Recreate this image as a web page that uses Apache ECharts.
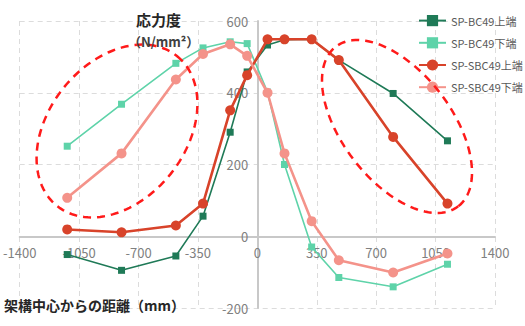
<!DOCTYPE html>
<html><head><meta charset="utf-8">
<script src="https://cdn.jsdelivr.net/npm/echarts@6/dist/echarts.min.js"></script>
<style>html,body{margin:0;padding:0;background:#fff}#c{width:525px;height:326px}</style>
</head><body><div id="c"></div>
<script>
const xPositions = [-1120, -800, -480, -320, -160, -60, 60, 160, 320, 480, 800, 1120];
const seriesNames = ['SP-BC49上端', 'SP-BC49下端', 'SP-SBC49上端', 'SP-SBC49下端'];
const bcTop =     [-51, -95, -55, 56, 290, 458, 533, 548, 549, 491, 398, 266];
const bcBottom =  [251, 368, 482, 525, 542, 537, 402, 200, -30, -115, -141, -78];
const sbcTop =    [19, 11, 30, 91, 351, 449, 549, 549, 549, 491, 277, 91];
const sbcBottom = [107, 231, 437, 508, 535, 503, 400, 231, 42, -67, -101, -48];
const xTicks = [-1400, -1050, -700, -350, 0, 350, 700, 1050, 1400];
const yTicks = [-200, 0, 200, 400, 600];

const FONT = '"Noto Sans CJK JP", "Noto Sans", sans-serif';
const toPairs = ys => xPositions.map((x, i) => [x, ys[i]]);

const W = 525, H = 326;
const G = {left: 18, right: 30, top: 21, bottom: 18};
const gw = W - G.left - G.right, gh = H - G.top - G.bottom;
const xMin = xTicks[0], xMax = xTicks[xTicks.length - 1];
const yMin = yTicks[0], yMax = yTicks[yTicks.length - 1];
// shift axes so they cross at zero (labels follow)
const xAxisOffset = -((0 - yMin) / (yMax - yMin)) * gh;
const yAxisOffset = -((0 - xMin) / (xMax - xMin)) * gw;

function ellipsePoints(cx, cy, a, b, angDeg) {
  const t0 = angDeg * Math.PI / 180;
  const ux = Math.cos(t0), uy = Math.sin(t0), vx = -uy, vy = ux;
  const pts = [];
  for (let i = 0; i < 120; i++) {
    const t = i / 120 * Math.PI * 2;
    const ca = a * Math.cos(t), sb = b * Math.sin(t);
    pts.push([cx + ca * ux + sb * vx, cy + ca * uy + sb * vy]);
  }
  return pts;
}

const styles = [
  {color: '#1f7a57', width: 1.6, symbol: 'rect', size: 7},
  {color: '#5ed3a9', width: 1.6, symbol: 'rect', size: 7},
  {color: '#d8432a', width: 2.6, symbol: 'circle', size: 10},
  {color: '#f4938a', width: 2.6, symbol: 'circle', size: 10}
];
const dataSets = [bcTop, bcBottom, sbcTop, sbcBottom];

const chart = echarts.init(document.getElementById('c'), null, {renderer: 'svg'});
chart.setOption({
  animation: false,
  backgroundColor: '#ffffff',
  textStyle: {fontFamily: FONT},
  grid: G,
  legend: {
    orient: 'vertical', left: 413, top: 10, itemWidth: 27, itemHeight: 14, itemGap: 11,
    textStyle: {color: '#595959', fontSize: 11, fontFamily: FONT},
    data: seriesNames
  },
  xAxis: {
    type: 'value', min: xMin, max: xMax, interval: 350, offset: xAxisOffset,
    axisLine: {onZero: false, lineStyle: {color: '#c8c8c8', width: 2}},
    axisTick: {show: false},
    axisLabel: {color: '#808080', fontSize: 13, margin: 10, fontFamily: FONT,
      formatter: v => String(v)},
    splitLine: {show: true, lineStyle: {color: '#dcdcdc', type: [5, 4], width: 1}}
  },
  yAxis: {
    type: 'value', min: yMin, max: yMax, interval: 200, offset: yAxisOffset,
    axisLine: {show: true, onZero: false, lineStyle: {color: '#c8c8c8', width: 2}},
    axisTick: {show: false},
    axisLabel: {color: '#808080', fontSize: 13, margin: 10, fontFamily: FONT,
      formatter: v => String(v)},
    splitLine: {show: true, lineStyle: {color: '#dcdcdc', type: [5, 4], width: 1}}
  },
  series: seriesNames.map((name, i) => ({
    name, type: 'line', data: toPairs(dataSets[i]),
    symbol: styles[i].symbol, symbolSize: styles[i].size,
    itemStyle: {color: styles[i].color},
    lineStyle: {color: styles[i].color, width: styles[i].width},
    z: 3 + i
  })),
  graphic: [
    {type: 'text', left: 136, top: 12, z: 100,
      style: {text: '応力度', fill: '#262626', font: 'bold 15px ' + FONT}},
    {type: 'text', left: 128, top: 35, z: 100,
      style: {text: '（N/mm²）', fill: '#404040', font: 'bold 13px ' + FONT}},
    {type: 'text', left: 4, top: 298, z: 100,
      style: {text: '架構中心からの距離（mm）', fill: '#262626', font: 'bold 14px ' + FONT}},
    {type: 'polygon', z: 50, silent: true,
      shape: {points: ellipsePoints(117, 131, 96, 68.7, -51.4)},
      style: {fill: 'none', stroke: '#ff1a1a', lineWidth: 2.5, lineDash: [8, 6]}},
    {type: 'polygon', z: 50, silent: true,
      shape: {points: ellipsePoints(397, 126.5, 100.6, 54.6, 52.5)},
      style: {fill: 'none', stroke: '#ff1a1a', lineWidth: 2.5, lineDash: [8, 6]}}
  ]
});
</script></body></html>
